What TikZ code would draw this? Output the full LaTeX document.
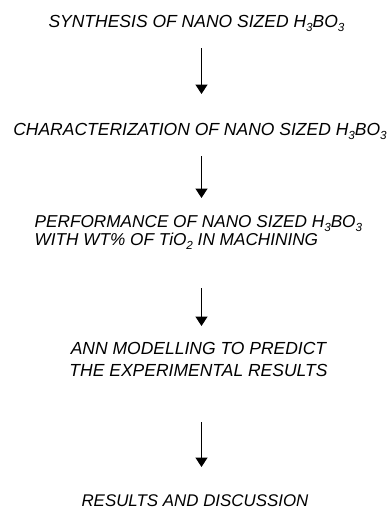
\documentclass[tikz,border=0pt]{standalone}
\usepackage{fontspec}
\setmainfont{Liberation Sans}
\usetikzlibrary{arrows.meta}
\newcommand\subtxt[1]{\raisebox{-0.24em}{\fontsize{11.7}{11.7}\selectfont #1}}
\begin{document}
\begin{tikzpicture}[x=1pt,y=-1pt,
  lbl/.style={inner sep=0pt,font=\fontsize{17.5}{16}\selectfont\itshape,text=black},
  arr/.style={line width=1.5pt,-{Triangle[width=12pt,length=9.5pt]}}]
\useasboundingbox (0,0) rectangle (390,509);
\node[lbl,anchor=base] (t1) at (196.5,27) {SYNTHESIS OF NANO SIZED H\subtxt{3}BO\subtxt{3}};
\node[lbl,anchor=base] (t2) at (200,135) {CHARACTERIZATION OF NANO SIZED H\subtxt{3}BO\subtxt{3}};
\node[lbl,anchor=base west,align=left,font=\fontsize{17.2}{16}\selectfont\itshape] (t3) at (34.5,245) {PERFORMANCE OF NANO SIZED H\subtxt{3}BO\subtxt{3}\\WITH WT\% OF TiO\subtxt{2} IN MACHINING};
\node[lbl,anchor=base,align=center,font=\fontsize{17.5}{22}\selectfont\itshape] (t4) at (198.5,376) {ANN MODELLING TO PREDICT\\THE EXPERIMENTAL RESULTS};
\node[lbl,anchor=base,font=\fontsize{16.9}{16}\selectfont\itshape] (t5) at (195,506) {RESULTS AND DISCUSSION};
\coordinate (a1s) at (201.5,48); \coordinate (a1e) at (201.5,94);
\coordinate (a2s) at (201.5,156); \coordinate (a2e) at (201.5,198);
\coordinate (a3s) at (201.5,288); \coordinate (a3e) at (201.5,326);
\coordinate (a4s) at (201.5,422); \coordinate (a4e) at (201.5,467);
\draw[arr] (a1s) -- (a1e);
\draw[arr] (a2s) -- (a2e);
\draw[arr] (a3s) -- (a3e);
\draw[arr] (a4s) -- (a4e);
\end{tikzpicture}
\end{document}
